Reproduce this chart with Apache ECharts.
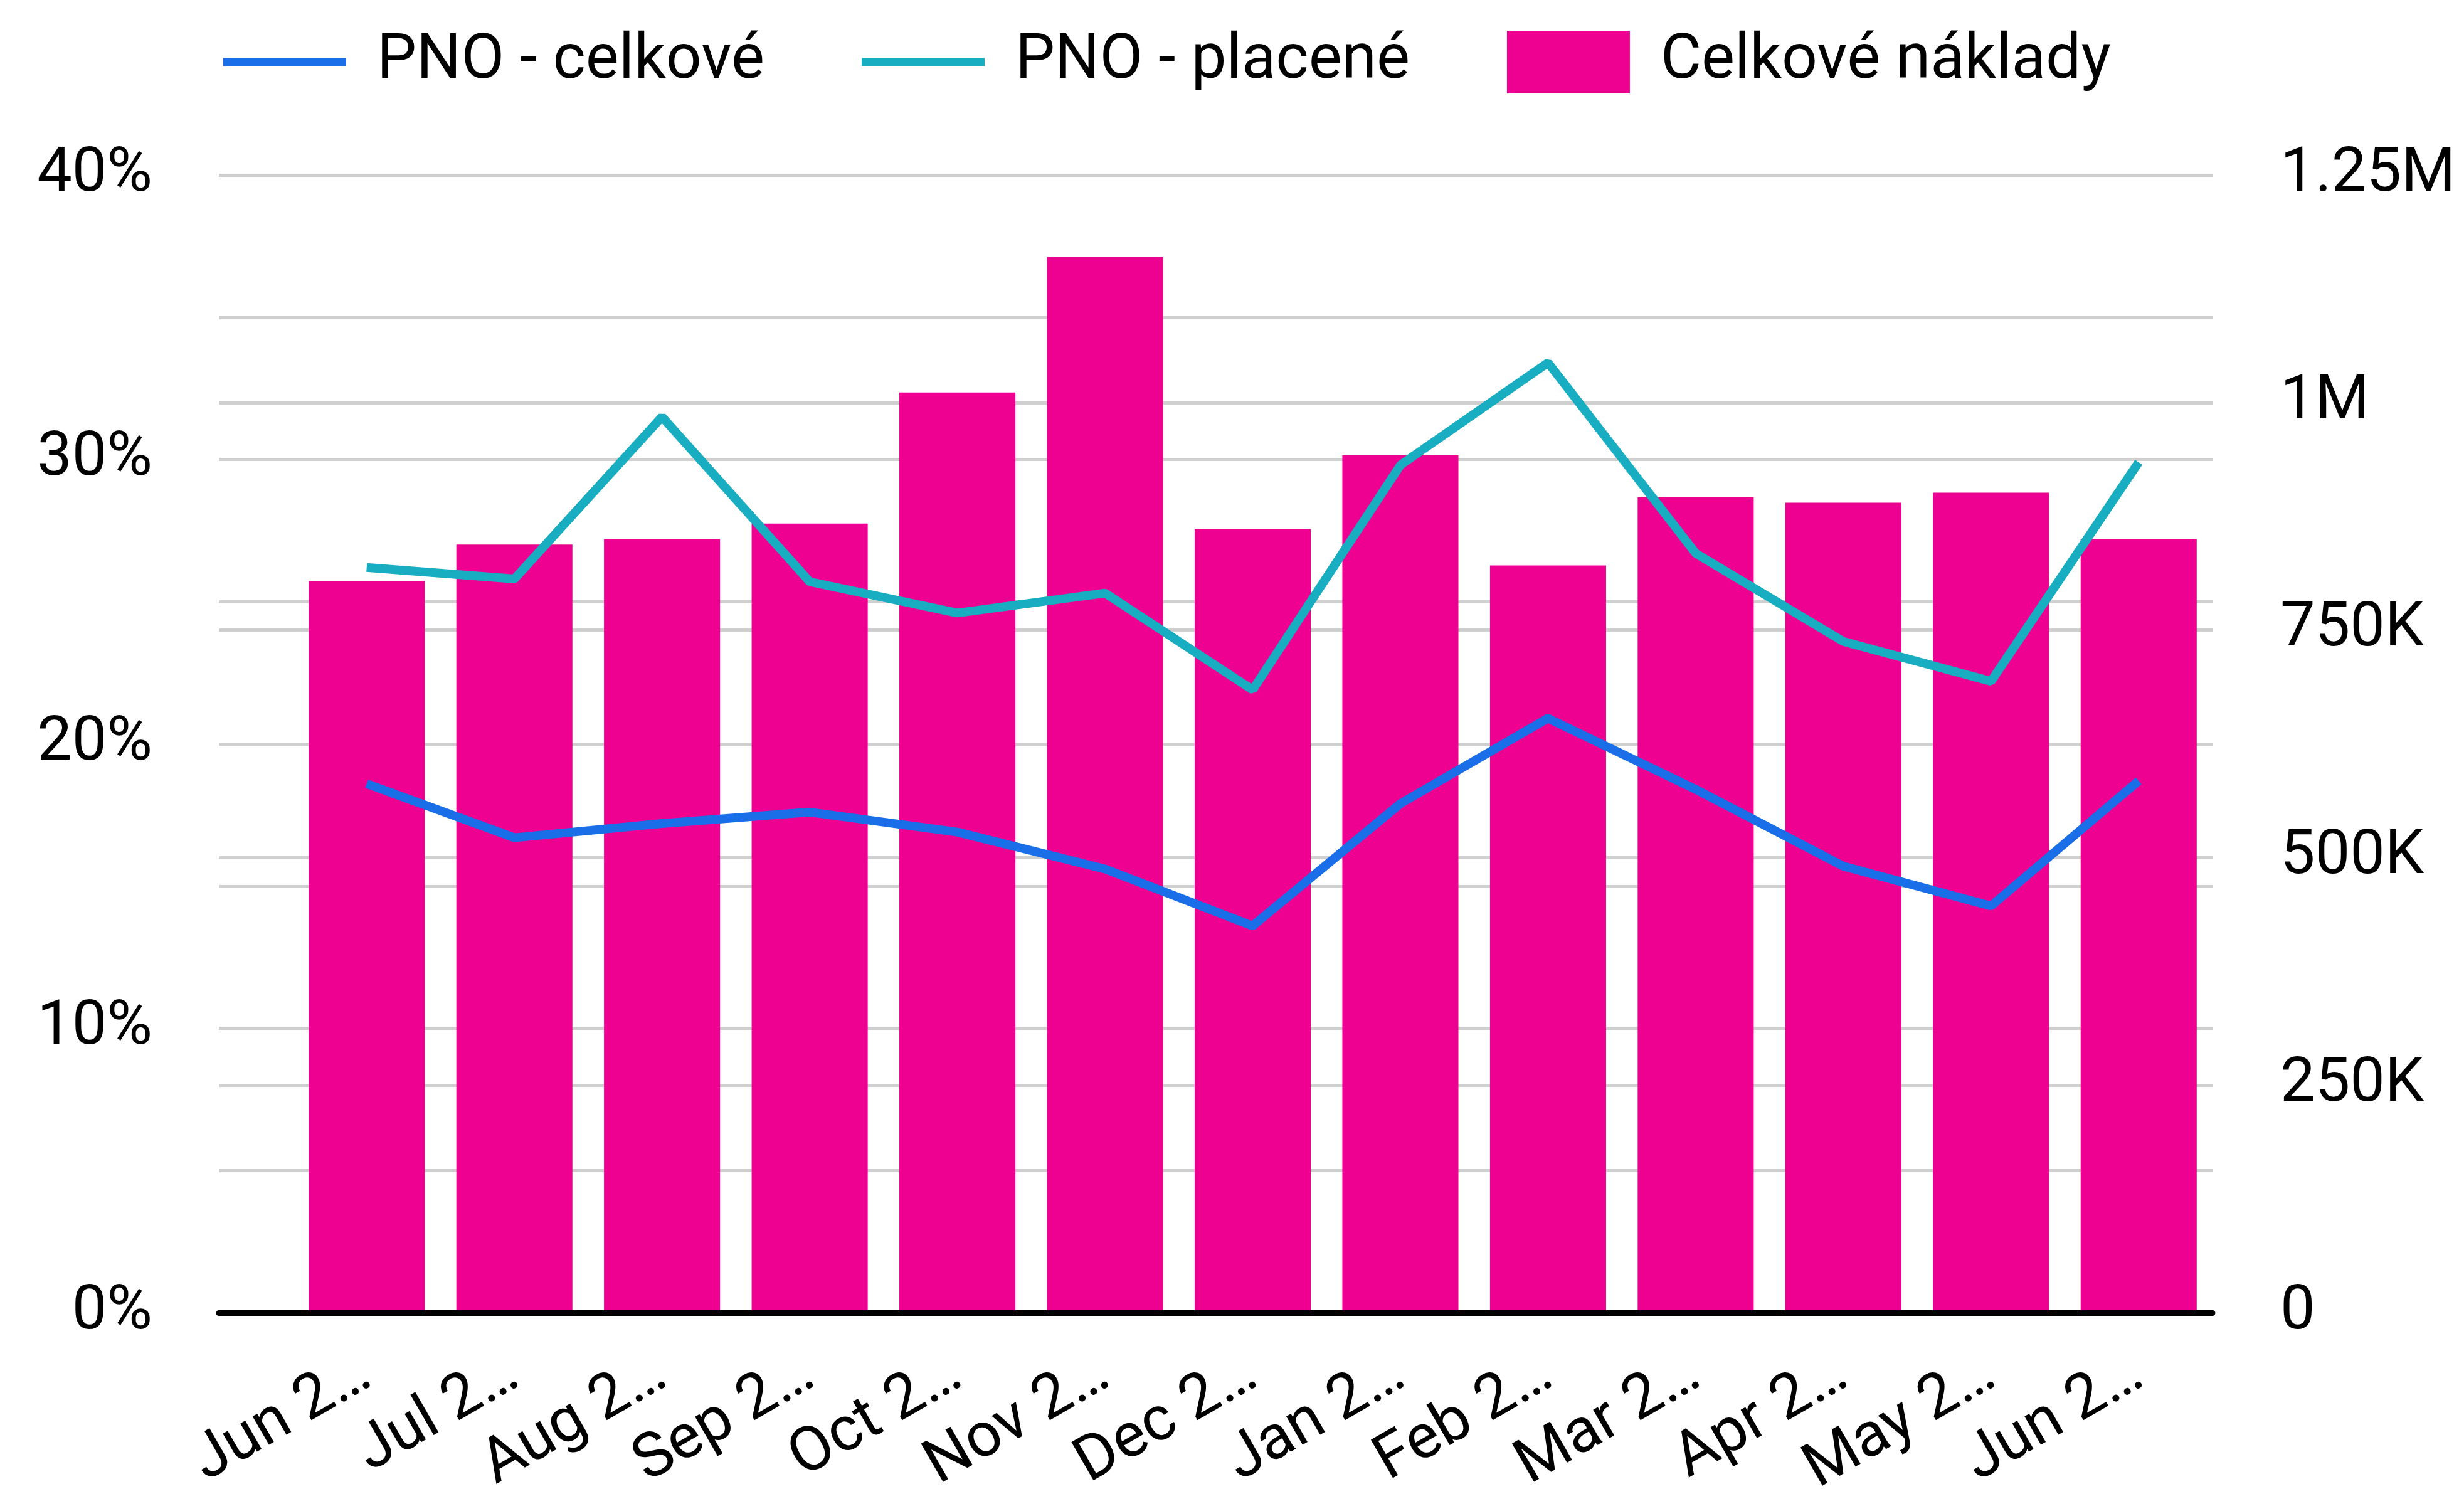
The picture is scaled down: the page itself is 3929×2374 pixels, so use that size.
<!DOCTYPE html>
<html>
<head>
<meta charset="utf-8">
<script src="https://cdn.jsdelivr.net/npm/echarts@6/dist/echarts.min.js"></script>
<style>
  html, body { margin: 0; padding: 0; background: #fff; }
  #chart { width: 3929px; height: 2374px; }
</style>
</head>
<body>
<div id="chart"></div>
<script>
// kategorie (popisky osy X tak, jak jsou v grafu zkrácené)
const categories = ['Jun 2…', 'Jul 2…', 'Aug 2…', 'Sep 2…', 'Oct 2…', 'Nov 2…', 'Dec 2…',
  'Jan 2…', 'Feb 2…', 'Mar 2…', 'Apr 2…', 'May 2…', 'Jun 2…'];
// PNO v %
const pnoCelkove = [18.6, 16.7, 17.2, 17.6, 16.9, 15.6, 13.6, 17.9, 20.9, 18.4, 15.7, 14.3, 18.7];
const pnoPlacene = [26.2, 25.8, 31.5, 25.7, 24.6, 25.3, 21.9, 29.8, 33.4, 26.7, 23.6, 22.2, 29.9];
// celkové náklady
const celkoveNaklady = [804000, 844000, 850000, 867000, 1011000, 1160000, 861000,
  942000, 821000, 896000, 890000, 901000, 850000];
// osy
const pctMax = 40, pctStep = 10;
const costMax = 1250000, costStep = 250000;

const font = 'Roboto';
const gridBox = { top: 279, bottom: 281, right: 401, outerBoundsMode: 'none', containLabel: false };
const lineIcon = 'path://M0,0H196V13H0Z';

function costLabel (v) {
  if (v === 0) return '0';
  if (v >= 1000000) return (v / 1000000) + 'M';
  return (v / 1000) + 'K';
}

const chart = echarts.init(document.getElementById('chart'));
chart.setOption({
  animation: false,
  textStyle: { fontFamily: font },
  legend: {
    data: [
      { name: 'PNO - celkové', icon: lineIcon },
      { name: 'PNO - placené', icon: lineIcon },
      { name: 'Celkové náklady', icon: 'rect' }
    ],
    left: 351,
    top: 44,
    itemWidth: 196,
    itemHeight: 100,
    itemGap: 155,
    symbolKeepAspect: true,
    textStyle: { fontSize: 100, color: '#000', fontFamily: font, padding: [0, 0, 0, 44] }
  },
  grid: [
    // pozadí: mřížka a osa přes celou šířku
    Object.assign({ left: 349 }, gridBox),
    // data: pásma kategorií začínají o kus dál
    Object.assign({ left: 467 }, gridBox)
  ],
  xAxis: [
    {
      type: 'category', gridIndex: 0, data: categories,
      z: 10,
      axisLine: { show: true, lineStyle: { color: '#000', width: 9 } },
      axisTick: { show: false },
      axisLabel: { show: false }
    },
    {
      type: 'category', gridIndex: 1, data: categories,
      axisLine: { show: false },
      axisTick: { show: false },
      axisLabel: {
        rotate: 30, interval: 0, margin: 92,
        fontSize: 99, color: '#000', fontFamily: font
      }
    }
  ],
  yAxis: [
    {
      type: 'value', gridIndex: 0, position: 'left',
      min: 0, max: pctMax, interval: pctStep,
      axisLine: { show: false }, axisTick: { show: false },
      axisLabel: { margin: 106, fontSize: 99, color: '#000', fontFamily: font, formatter: '{value}%' },
      splitLine: { lineStyle: { color: '#cfcfcf', width: 5 } },
      minorTick: { show: false, splitNumber: 2 },
      minorSplitLine: { show: true, lineStyle: { color: '#cfcfcf', width: 5 } }
    },
    {
      type: 'value', gridIndex: 0, position: 'right',
      min: 0, max: costMax, interval: costStep,
      axisLine: { show: false }, axisTick: { show: false },
      axisLabel: { margin: 108, fontSize: 99, color: '#000', fontFamily: font, formatter: costLabel },
      splitLine: { lineStyle: { color: '#cfcfcf', width: 5 } }
    },
    {
      type: 'value', gridIndex: 1, min: 0, max: pctMax, interval: pctStep,
      axisLine: { show: false }, axisTick: { show: false }, axisLabel: { show: false }, splitLine: { show: false }
    },
    {
      type: 'value', gridIndex: 1, position: 'right', min: 0, max: costMax, interval: costStep,
      axisLine: { show: false }, axisTick: { show: false }, axisLabel: { show: false }, splitLine: { show: false }
    }
  ],
  series: [
    {
      name: 'Celkové náklady',
      type: 'bar',
      xAxisIndex: 1,
      yAxisIndex: 3,
      barCategoryGap: '21.4%',
      itemStyle: { color: '#ee0090' },
      data: celkoveNaklady
    },
    {
      name: 'PNO - celkové',
      type: 'line',
      xAxisIndex: 1,
      yAxisIndex: 2,
      symbol: 'none',
      z: 5,
      lineStyle: { color: '#1a6fe8', width: 14 },
      itemStyle: { color: '#1a6fe8' },
      data: pnoCelkove
    },
    {
      name: 'PNO - placené',
      type: 'line',
      xAxisIndex: 1,
      yAxisIndex: 2,
      symbol: 'none',
      z: 5,
      lineStyle: { color: '#19adc1', width: 14 },
      itemStyle: { color: '#19adc1' },
      data: pnoPlacene
    }
  ]
});
</script>
</body>
</html>
